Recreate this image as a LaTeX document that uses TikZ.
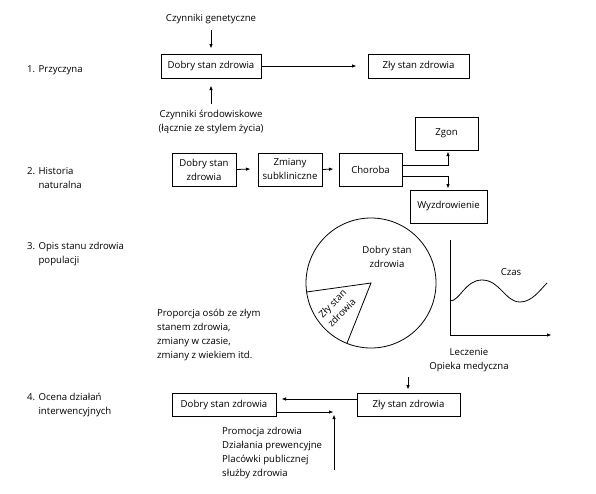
\documentclass[tikz,border=0pt]{standalone}
\usepackage{fontspec}
\setmainfont{Open Sans}
\usetikzlibrary{arrows.meta}
\begin{document}
\begin{tikzpicture}[x=1pt,y=-1pt,
  every node/.style={font=\fontsize{9.6}{14}\selectfont, inner sep=0pt},
  box/.style={draw, line width=0.9pt, minimum height=24pt, align=center},
  tbox/.style={draw, line width=0.9pt, align=center, minimum height=33pt},
  lbl/.style={anchor=west, align=left},
  arr/.style={line width=0.8pt, -{Triangle[length=4pt,width=3pt]}},
  ln/.style={line width=0.8pt}]
\useasboundingbox (0,0) rectangle (596,493);
% Section 1
\node[lbl] (l1) at (27,70) {1. Przyczyna};
\node (gen) at (211,19) {Czynniki genetyczne};
\node[box, minimum width=100pt] (d1) at (211,66) {Dobry stan zdrowia};
\node[box, minimum width=101pt] (z1) at (418.5,66) {Zły stan zdrowia};
\node[align=center] (sr) at (211,121.5) {Czynniki środowiskowe\\(łącznie ze stylem życia)};
\coordinate (g1) at (211,30);
\coordinate (g2) at (211,48);
\coordinate (s1) at (211,104);
\coordinate (s2) at (211,86);
\coordinate (a1e) at (356,66);
\draw[arr] (g1) -- (g2);
\draw[arr] (s1) -- (s2);
\draw[arr] (d1.east) -- (a1e);
% Section 2
\node[lbl] (l2) at (27,178) {2. Historia\\\hphantom{2. }naturalna};
\node[tbox, minimum width=64pt] (d2) at (204,169.5) {Dobry stan\\zdrowia};
\node[tbox, minimum width=64pt] (zm) at (290,169.5) {Zmiany\\subkliniczne};
\node[tbox, minimum width=63pt] (ch) at (370.5,169.5) {Choroba};
\node[tbox, minimum width=63pt] (zg) at (446.5,133.5) {Zgon};
\node[tbox, minimum width=77pt] (wy) at (448.5,206.5) {Wyzdrowienie};
\coordinate (e2a) at (250,169);
\coordinate (e2b) at (333,169);
\draw[arr] (d2.east) -- (e2a);
\draw[arr] (zm.east) -- (e2b);
\coordinate (c1) at (402,165);
\coordinate (c1k) at (448,165);
\coordinate (c1e) at (448,152);
\coordinate (c2) at (402,176);
\coordinate (c2k) at (448,176);
\coordinate (c2e) at (448,188);
\draw[arr] (c1) -- (c1k) -- (c1e);
\draw[arr] (c2) -- (c2k) -- (c2e);
% Section 3
\node[lbl] (l3) at (27,253.5) {3. Opis stanu zdrowia\\\hphantom{3. }populacji};
\coordinate (cc) at (371,283);
\coordinate (p1) at (306.6,292);
\coordinate (p2) at (346.9,343.4);
\draw[ln] (cc) circle[radius=65];
\draw[ln] (p1) -- (cc) -- (p2);
\node[align=center] (dob) at (387,257) {Dobry stan\\zdrowia};
\node[align=center, rotate=45, font=\fontsize{9.6}{13}\selectfont] (zly) at (337,308) {Zły stan\\zdrowia};
\node[lbl] (prop) at (157,335) {Proporcja osób ze złym\\stanem zdrowia,\\zmiany w czasie,\\zmiany z wiekiem itd.};
\coordinate (ax0) at (450,335);
\coordinate (axt) at (450,240);
\coordinate (axr) at (551,335);
\draw[ln] (axt) -- (ax0);
\draw[arr] (ax0) -- (axr);
\coordinate (cv0) at (450,301);
\coordinate (cv1) at (482,280);
\coordinate (cv2) at (520,302);
\coordinate (cv3) at (547,283);
\draw[ln] (cv0) .. controls (460,301) and (465,280) .. (cv1)
  .. controls (500,280) and (505,302) .. (cv2)
  .. controls (532,302) and (540,290) .. (cv3);
\node (czas) at (511,272) {Czas};
\node[align=center] (lecz) at (469,360) {Leczenie\\Opieka medyczna};
% Section 4
\node[lbl] (l4) at (27,405) {4. Ocena działań\\\hphantom{4. }interwencyjnych};
\node[box, minimum width=104pt, minimum height=23pt] (d4) at (224,404.5) {Dobry stan zdrowia};
\node[box, minimum width=103pt, minimum height=23pt] (z4) at (408.5,404.5) {Zły stan zdrowia};
\coordinate (le1) at (408,377);
\coordinate (le2) at (408,389);
\draw[arr] (le1) -- (le2);
\coordinate (zd) at (357,399);
\coordinate (zde) at (282,399);
\draw[arr] (zd) -- (zde);
\coordinate (dz) at (276,412);
\coordinate (dze) at (333,412);
\draw[arr] (dz) -- (dze);
\coordinate (pv1) at (334,470);
\coordinate (pv2) at (334,415);
\draw[arr] (pv1) -- (pv2);
\node[lbl] (prom) at (222,452.5) {Promocja zdrowia\\Działania prewencyjne\\Placówki publicznej\\służby zdrowia};
\end{tikzpicture}
\end{document}
